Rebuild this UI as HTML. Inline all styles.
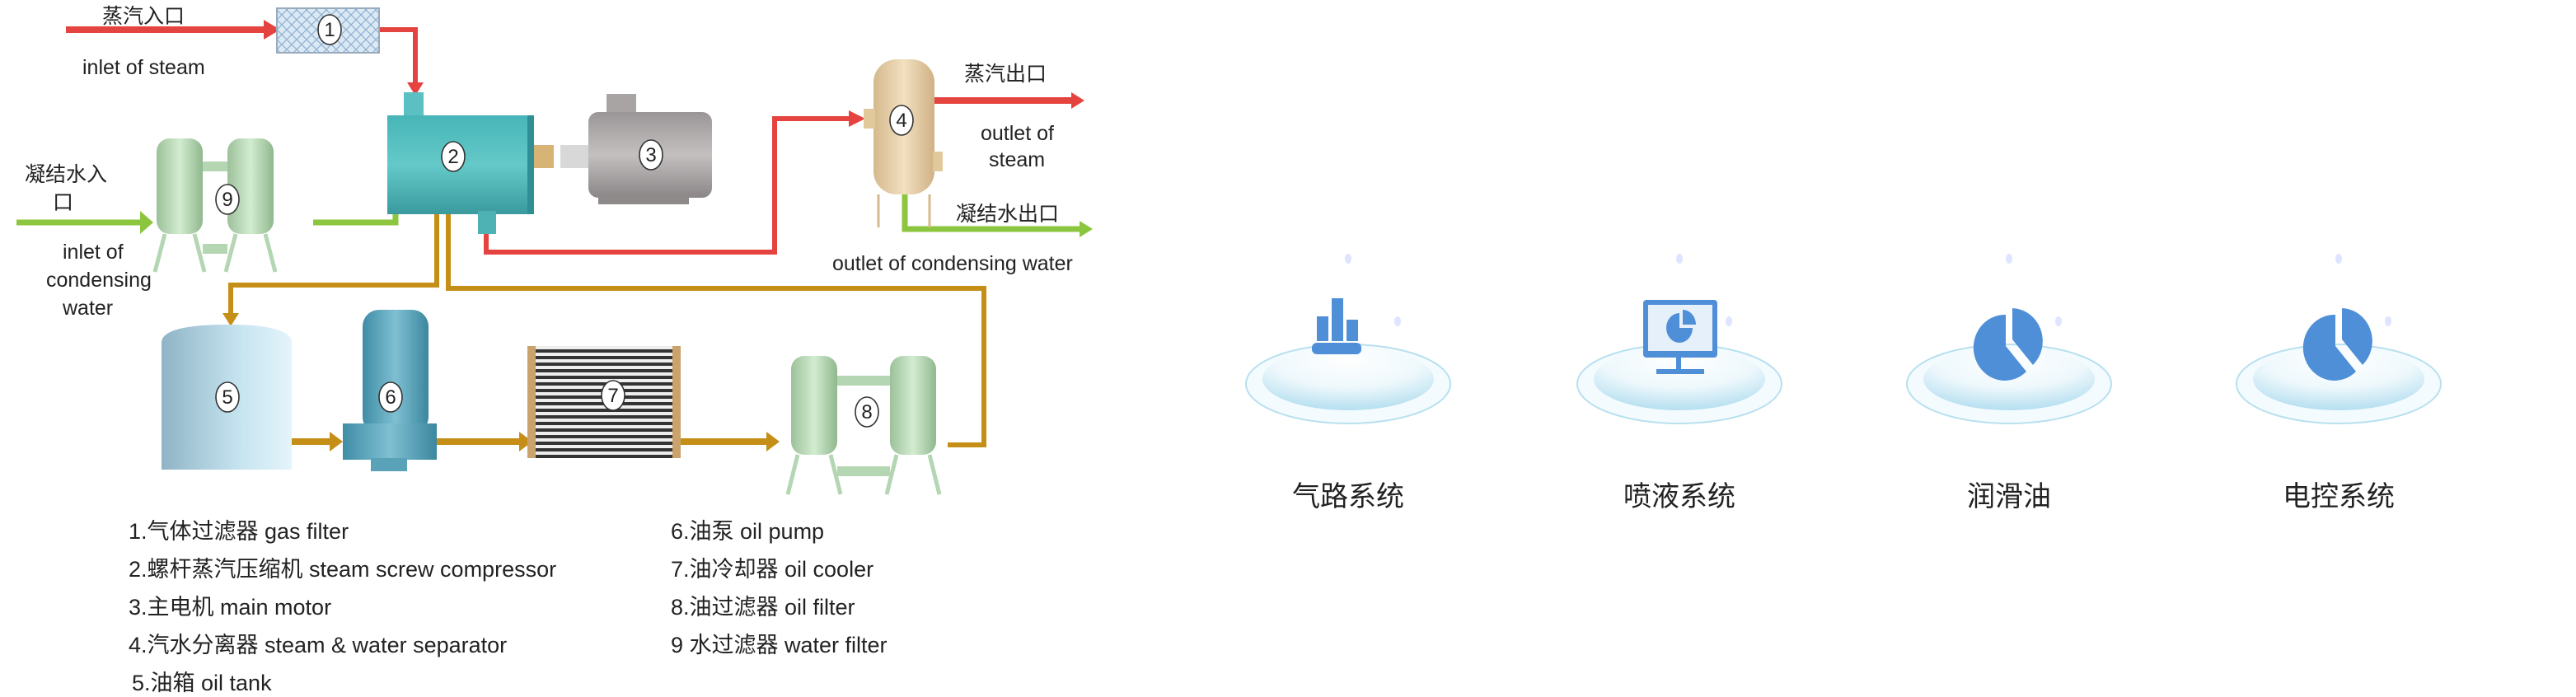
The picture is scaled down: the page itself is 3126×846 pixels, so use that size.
<!DOCTYPE html>
<html><head><meta charset="utf-8"><style>
html,body{margin:0;padding:0;background:#fff;width:3126px;height:846px;overflow:hidden}
svg{display:block}
text{font-family:"Liberation Sans","Noto Sans CJK SC",sans-serif;fill:#222}
</style></head><body>
<svg width="3126" height="846" viewBox="0 0 1563 423" xmlns="http://www.w3.org/2000/svg">
<defs>
<pattern id="hatch" width="6" height="6" patternUnits="userSpaceOnUse"><rect width="6" height="6" fill="#dbe9f5"/><path d="M0 0L6 6M6 0L0 6" stroke="#8fb0d0" stroke-width="0.6"/></pattern>
<linearGradient id="teal" x1="0" y1="0" x2="0" y2="1"><stop offset="0" stop-color="#47b5b8"/><stop offset="0.5" stop-color="#64c9c8"/><stop offset="1" stop-color="#3a9a9e"/></linearGradient>
<linearGradient id="gray" x1="0" y1="0" x2="0" y2="1"><stop offset="0" stop-color="#9a9596"/><stop offset="0.5" stop-color="#c4c0c0"/><stop offset="1" stop-color="#8a8586"/></linearGradient>
<linearGradient id="tan" x1="0" y1="0" x2="1" y2="0"><stop offset="0" stop-color="#d5b98d"/><stop offset="0.5" stop-color="#f2e0c0"/><stop offset="1" stop-color="#d0b185"/></linearGradient>
<linearGradient id="grn" x1="0" y1="0" x2="1" y2="0"><stop offset="0" stop-color="#9cc19a"/><stop offset="0.5" stop-color="#d3ecd0"/><stop offset="1" stop-color="#90b88e"/></linearGradient>
<linearGradient id="tank" x1="0" y1="0" x2="1" y2="0"><stop offset="0" stop-color="#8fb4c6"/><stop offset="0.6" stop-color="#c6e4f0"/><stop offset="1" stop-color="#e4f4fb"/></linearGradient>
<linearGradient id="pump" x1="0" y1="0" x2="1" y2="0"><stop offset="0" stop-color="#3f8da6"/><stop offset="0.5" stop-color="#7fc0d2"/><stop offset="1" stop-color="#3c879f"/></linearGradient>
<pattern id="stripes" width="4" height="4" patternUnits="userSpaceOnUse"><rect width="4" height="4" fill="#eee"/><rect width="4" height="2" fill="#333"/></pattern>
<radialGradient id="bowl" cx="0.5" cy="0.2" r="0.8"><stop offset="0" stop-color="#ffffff"/><stop offset="0.55" stop-color="#eef8fc"/><stop offset="1" stop-color="#b5dff0"/></radialGradient>
</defs>

<g fill="none" stroke-linejoin="miter">
<path d="M40 18H160" stroke="#e5433f" stroke-width="4"/>
<path d="M230 18H252V50" stroke="#e5433f" stroke-width="3"/>
<path d="M295 125V153H470V72H515" stroke="#e5433f" stroke-width="3"/>
<path d="M567 61H650" stroke="#e5433f" stroke-width="4"/>
<path d="M549 118V139H655" stroke="#8cc63f" stroke-width="3.5"/>
<path d="M10 135H85" stroke="#8cc63f" stroke-width="3.5"/>
<path d="M190 135H240V122" stroke="#8cc63f" stroke-width="3.5"/>
<path d="M265 118V173H140V192" stroke="#c58f17" stroke-width="3"/>
<path d="M272 125V175H597V270H575" stroke="#c58f17" stroke-width="3"/>
<path d="M177 268H200M265 268H315M410 268H465" stroke="#c58f17" stroke-width="4"/>
</g>
<g>
<polygon points="160,12 170,18 160,24" fill="#e5433f"/>
<polygon points="247,50 257,50 252,58" fill="#e5433f"/>
<polygon points="515,67 525,72 515,77" fill="#e5433f"/>
<polygon points="650,56 658,61 650,66" fill="#e5433f"/>
<polygon points="655,134 663,139 655,144" fill="#8cc63f"/>
<polygon points="85,128 93,135 85,142" fill="#8cc63f"/>
<polygon points="235,122 245,122 240,114" fill="#8cc63f"/>
<polygon points="135,190 145,190 140,198" fill="#c58f17"/>
<polygon points="267,125 277,125 272,116" fill="#c58f17"/>
<polygon points="200,262 208,268 200,274" fill="#c58f17"/>
<polygon points="315,262 323,268 315,274" fill="#c58f17"/>
<polygon points="465,262 473,268 465,274" fill="#c58f17"/>
</g>

<rect x="168" y="5" width="62" height="27" fill="url(#hatch)" stroke="#9ab" stroke-width="1"/>
<rect x="245" y="56" width="12" height="15" fill="#5cc0c3"/>
<rect x="235" y="70" width="85" height="60" fill="url(#teal)"/>
<rect x="320" y="70" width="4" height="60" fill="#2f8f95"/>
<rect x="290" y="128" width="11" height="14" fill="#4eb2b5"/>
<rect x="324" y="88" width="12" height="14" fill="#d7b476"/>
<rect x="340" y="88" width="20" height="14" fill="#d8d8d8"/>
<rect x="368" y="57" width="18" height="12" fill="#a8a4a4"/>
<rect x="357" y="68" width="75" height="52" rx="6" fill="url(#gray)"/>
<rect x="363" y="118" width="55" height="6" fill="#8e8a8a"/>
<rect x="530" y="36" width="37" height="82" rx="14" fill="url(#tan)"/>
<rect x="524" y="66" width="7" height="12" fill="#e2c99c"/>
<rect x="566" y="92" width="6" height="12" fill="#e2c99c"/>
<path d="M533 118V138M564 118V138" stroke="#d5ba8d" stroke-width="1.5"/>
<g><rect x="95" y="84" width="28" height="58" rx="8" fill="url(#grn)"/><rect x="138" y="84" width="28" height="58" rx="8" fill="url(#grn)"/>
<rect x="123" y="98" width="15" height="6" fill="#b5d6b2"/><rect x="123" y="148" width="15" height="6" fill="#b5d6b2"/>
<path d="M100 142L94 165M118 142L124 165M143 142L137 165M161 142L167 165" stroke="#b5d6b2" stroke-width="2.5"/></g>
<path d="M98 208Q98 197 138 197Q177 197 177 208V285H98Z" fill="url(#tank)"/>
<rect x="220" y="188" width="40" height="75" rx="10" fill="url(#pump)"/>
<rect x="208" y="257" width="57" height="22" fill="url(#pump)"/>
<rect x="225" y="278" width="22" height="8" fill="#5aa2b8"/>
<rect x="323" y="210" width="87" height="68" fill="url(#stripes)"/>
<rect x="320" y="210" width="5" height="68" fill="#c9a36b"/><rect x="408" y="210" width="5" height="68" fill="#c9a36b"/>
<g><rect x="480" y="216" width="28" height="60" rx="8" fill="url(#grn)"/><rect x="540" y="216" width="28" height="60" rx="8" fill="url(#grn)"/>
<rect x="508" y="228" width="32" height="6" fill="#b5d6b2"/><rect x="508" y="283" width="32" height="6" fill="#b5d6b2"/>
<path d="M484 276L478 300M504 276L510 300M544 276L538 300M564 276L570 300" stroke="#b5d6b2" stroke-width="2.5"/></g>

<g fill="#fff" stroke="#333" stroke-width="0.8">
<ellipse cx="200" cy="18" rx="7" ry="9"/><ellipse cx="275" cy="95" rx="7" ry="9"/><ellipse cx="395" cy="94" rx="7" ry="9"/>
<ellipse cx="547" cy="73" rx="7" ry="9"/><ellipse cx="138" cy="121" rx="7" ry="9"/><ellipse cx="138" cy="241" rx="7" ry="9"/>
<ellipse cx="237" cy="241" rx="7" ry="9"/><ellipse cx="372" cy="240" rx="7" ry="9"/><ellipse cx="526" cy="250" rx="7" ry="9"/>
</g>
<g font-size="12" text-anchor="middle">
<text x="200" y="22">1</text><text x="275" y="99">2</text><text x="395" y="98">3</text><text x="547" y="77">4</text>
<text x="138" y="125">9</text><text x="138" y="245">5</text><text x="237" y="245">6</text><text x="372" y="244">7</text><text x="526" y="254">8</text>
</g>

<g font-size="12.5">
<text x="62" y="14">蒸汽入口</text>
<text x="50" y="45">inlet of steam</text>
<text x="585" y="49">蒸汽出口</text>
<text x="595" y="85">outlet of</text>
<text x="600" y="101">steam</text>
<text x="580" y="134">凝结水出口</text>
<text x="505" y="164">outlet of condensing water</text>
<text x="15" y="110">凝结水入</text>
<text x="32" y="127">口</text>
<text x="38" y="157">inlet of</text>
<text x="28" y="174">condensing</text>
<text x="38" y="191">water</text>
</g>
<g font-size="13.5">
<text x="78" y="327">1.气体过滤器 gas filter</text>
<text x="78" y="350">2.螺杆蒸汽压缩机 steam screw compressor</text>
<text x="78" y="373">3.主电机 main motor</text>
<text x="78" y="396">4.汽水分离器 steam &amp; water separator</text>
<text x="80" y="419">5.油箱 oil tank</text>
<text x="407" y="327">6.油泵 oil pump</text>
<text x="407" y="350">7.油冷却器 oil cooler</text>
<text x="407" y="373">8.油过滤器 oil filter</text>
<text x="407" y="396">9 水过滤器 water filter</text>
</g>

<g transform="translate(818,0)">
<ellipse cx="0" cy="233" rx="62" ry="24" fill="#f4fbfe" stroke="#b8e0ef" stroke-width="1"/>
<ellipse cx="0" cy="230" rx="52" ry="19" fill="url(#bowl)"/>
<ellipse cx="0" cy="157" rx="2" ry="3" fill="#dfe4ff"/><ellipse cx="30" cy="195" rx="2" ry="3" fill="#dfe4ff"/>
<rect x="-22" y="208" width="30" height="7" rx="3" fill="#4f8fd8"/>
<rect x="-19" y="192" width="7" height="15" fill="#4f8fd8"/><rect x="-10" y="181" width="7" height="26" fill="#4f8fd8"/><rect x="-1" y="194" width="7" height="13" fill="#4f8fd8"/>
<text x="0" y="307" font-size="17" text-anchor="middle">气路系统</text>
</g>
<g transform="translate(1019,0)">
<ellipse cx="0" cy="233" rx="62" ry="24" fill="#f4fbfe" stroke="#b8e0ef" stroke-width="1"/>
<ellipse cx="0" cy="230" rx="52" ry="19" fill="url(#bowl)"/>
<ellipse cx="0" cy="157" rx="2" ry="3" fill="#dfe4ff"/><ellipse cx="30" cy="195" rx="2" ry="3" fill="#dfe4ff"/>
<rect x="-22" y="182" width="45" height="35" rx="2" fill="#4f8fd8"/><rect x="-19" y="185" width="39" height="28" fill="#e6f0fb"/>
<path d="M0 190V199H8A8 9 0 1 1 0 190Z" fill="#4f8fd8"/><path d="M2 188A8 9 0 0 1 10 197H2Z" fill="#4f8fd8"/>
<rect x="-2" y="217" width="3" height="8" fill="#4f8fd8"/><rect x="-14" y="224" width="29" height="3" fill="#4f8fd8"/>
<text x="0" y="307" font-size="17" text-anchor="middle">喷液系统</text>
</g>
<g transform="translate(1219,210)">
<ellipse cx="0" cy="23" rx="62" ry="24" fill="#f4fbfe" stroke="#b8e0ef" stroke-width="1"/>
<ellipse cx="0" cy="20" rx="52" ry="19" fill="url(#bowl)"/>
<ellipse cx="0" cy="-53" rx="2" ry="3" fill="#dfe4ff"/><ellipse cx="30" cy="-15" rx="2" ry="3" fill="#dfe4ff"/>
<path d="M-2 0V-19A19 20 0 1 0 10.5 15.5Z" fill="#4f8fd8"/>
<path d="M2 -4V-23A19 20 0 0 1 14.5 11.5Z" fill="#4f8fd8"/>
<text x="0" y="97" font-size="17" text-anchor="middle">润滑油</text>
</g>
<g transform="translate(1419,210)">
<ellipse cx="0" cy="23" rx="62" ry="24" fill="#f4fbfe" stroke="#b8e0ef" stroke-width="1"/>
<ellipse cx="0" cy="20" rx="52" ry="19" fill="url(#bowl)"/>
<ellipse cx="0" cy="-53" rx="2" ry="3" fill="#dfe4ff"/><ellipse cx="30" cy="-15" rx="2" ry="3" fill="#dfe4ff"/>
<path d="M-2 0V-19A19 20 0 1 0 10.5 15.5Z" fill="#4f8fd8"/>
<path d="M2 -4V-23A19 20 0 0 1 14.5 11.5Z" fill="#4f8fd8"/>
<text x="0" y="97" font-size="17" text-anchor="middle">电控系统</text>
</g>
</svg>
</body></html>
